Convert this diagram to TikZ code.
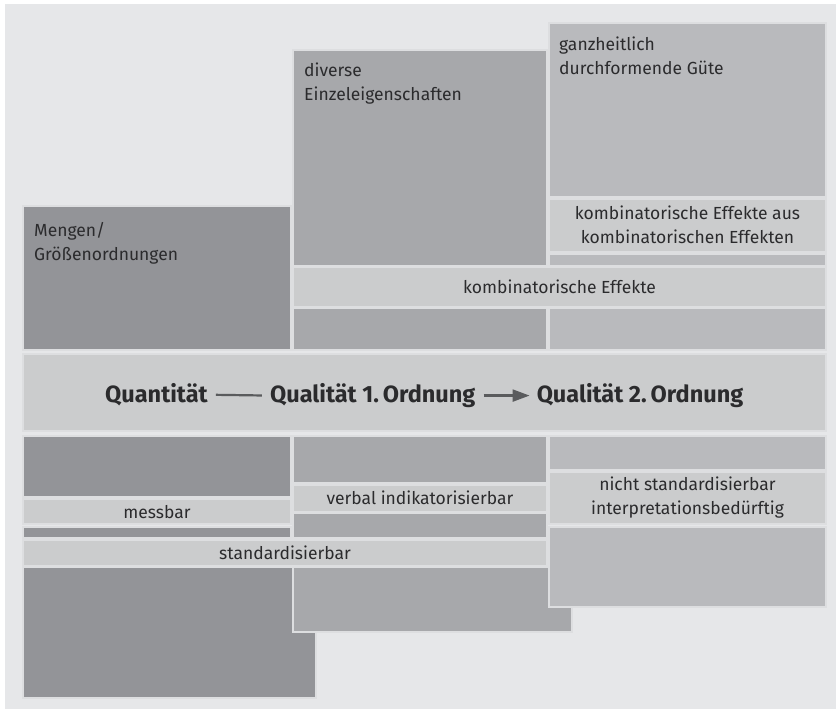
\documentclass[tikz,border=0pt]{standalone}
\usepackage{fontspec}
\setmainfont{Fira Sans}
\usetikzlibrary{positioning,arrows.meta}

\definecolor{bggray}{HTML}{E6E7E9}
\definecolor{sepgray}{HTML}{DDDEE0}
\definecolor{darkblk}{HTML}{939498}
\definecolor{midblk}{HTML}{A7A8AB}
\definecolor{lightblk}{HTML}{B9BABD}
\definecolor{bandgray}{HTML}{CBCCCD}
\definecolor{txtgray}{HTML}{2B2B2D}
\definecolor{arrgray}{HTML}{5A5B5D}

\tikzset{
  blk/.style={draw=sepgray,line width=1.2pt},
  lbl/.style={text=txtgray,font=\fontsize{17.5}{24}\selectfont,inner sep=0pt},
  toplbl/.style={lbl,anchor=base west,align=left},
  bandlbl/.style={lbl,align=center},
  headlbl/.style={text=txtgray,font=\fontsize{23.5}{28}\bfseries\selectfont,inner sep=0pt}
}

\begin{document}
\begin{tikzpicture}[x=1pt,y=-1pt,>=latex]

\useasboundingbox (0,0) rectangle (837,710);
\fill[white] (0,0) rectangle (837,710);
\fill[bggray] (5,4) rectangle (836,709);

% upper part
\filldraw[blk,fill=darkblk] (23,206) rectangle (291,350);
\filldraw[blk,fill=midblk] (293,50) rectangle (547,266);
\filldraw[blk,fill=lightblk] (549,23) rectangle (826,197);
\filldraw[blk,fill=bandgray] (549,199) rectangle (826,252);
\filldraw[blk,fill=lightblk] (549,254) rectangle (826,266);
\filldraw[blk,fill=bandgray] (293,267) rectangle (826,307);
\filldraw[blk,fill=midblk] (293,308) rectangle (547,350);
\filldraw[blk,fill=lightblk] (549,308) rectangle (826,350);

% base anchor = last line
\node[toplbl] (mengen) at (34,260) {Mengen/\\Größenordnungen};
\node[toplbl] (diverse) at (304,100) {diverse\\Einzeleigenschaften};
\node[toplbl] (ganz) at (559,74.5) {ganzheitlich\\durchformende Güte};
\node[bandlbl] (kombkomb) at (687.5,225) {kombinatorische Effekte aus\\kombinatorischen Effekten};
\node[bandlbl] (komb) at (559.5,287) {kombinatorische Effekte};

% middle band
\filldraw[blk,fill=bandgray] (23,354) rectangle (826,431);
\node[headlbl,anchor=base west] (quant) at (105,402.5) {Quantität};
\node[headlbl,right=62pt of quant.base east,anchor=base west] (qual1) {Qualität 1.\,Ordnung};
\node[headlbl,right=61pt of qual1.base east,anchor=base west] (qual2) {Qualität 2.\,Ordnung};
\draw[arrgray,line width=2.2pt,shorten <=8pt,shorten >=8pt] (quant.east) -- (qual1.west);
\draw[arrgray,line width=2.2pt,shorten <=8pt,shorten >=7pt,-{Triangle[length=17pt,width=12pt]}] (qual1.east) -- (qual2.west);

% lower part
\filldraw[blk,fill=darkblk] (23,567) rectangle (316,698);
\filldraw[blk,fill=midblk] (293,567) rectangle (572,632);
\filldraw[blk,fill=lightblk] (549,527) rectangle (826,607);

\filldraw[blk,fill=darkblk] (23,436) rectangle (291,497);
\filldraw[blk,fill=bandgray] (23,499) rectangle (291,524);
\filldraw[blk,fill=darkblk] (23,527) rectangle (291,538);

\filldraw[blk,fill=midblk] (293,436) rectangle (547,483);
\filldraw[blk,fill=bandgray] (293,485) rectangle (547,512);
\filldraw[blk,fill=midblk] (293,513) rectangle (547,538);

\filldraw[blk,fill=bandgray] (23,540) rectangle (547,566);

\filldraw[blk,fill=lightblk] (549,436) rectangle (826,470);
\filldraw[blk,fill=bandgray] (549,472) rectangle (826,524);

\node[bandlbl] (messbar) at (157,512) {messbar};
\node[bandlbl] (verbal) at (420,498) {verbal indikatorisierbar};
\node[bandlbl] (standard) at (285,553) {standardisierbar};
\node[bandlbl] (nicht) at (687.5,497.5) {nicht standardisierbar\\interpretationsbedürftig};

\end{tikzpicture}
\end{document}
